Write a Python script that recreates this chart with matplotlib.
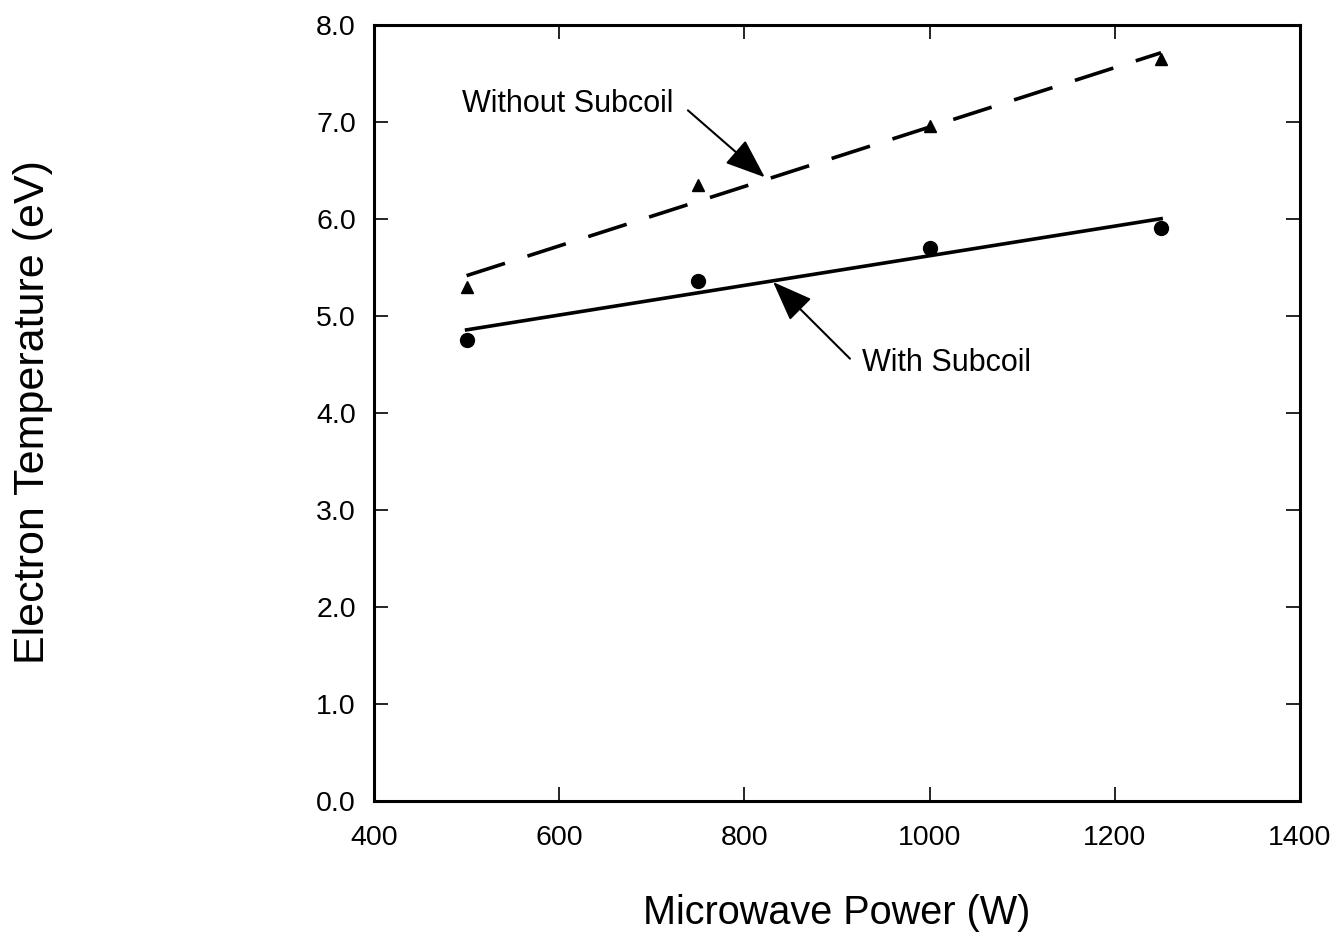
import numpy as np
import matplotlib
matplotlib.use("Agg")
import matplotlib.pyplot as plt

plt.rcParams['font.family'] = ['Liberation Sans', 'DejaVu Sans']
plt.rcParams['lines.scale_dashes'] = False

power = [500, 750, 1000, 1250]
te_without = [5.30, 6.35, 6.96, 7.65]
te_with = [4.75, 5.36, 5.70, 5.91]

x_ticks = [400, 600, 800, 1000, 1200, 1400]
y_ticks = [0.0, 1.0, 2.0, 3.0, 4.0, 5.0, 6.0, 7.0, 8.0]

fig = plt.figure(figsize=(13.42, 9.43), dpi=100)
ax = fig.add_axes([0.2787, 0.1506, 0.6900, 0.8229])

x = np.array(power, dtype=float)
p1 = np.polyfit(x, te_without, 1)
p2 = np.polyfit(x, te_with, 1)
xf = np.array([power[0], power[-1]], dtype=float)

ax.plot(xf, np.polyval(p1, xf), color='black', lw=2.6, dashes=(29, 17))
ax.plot(xf, np.polyval(p2, xf), color='black', lw=2.6)
ax.plot(power, te_without, linestyle='none', marker='^', ms=9, color='black')
ax.plot(power, te_with, linestyle='none', marker='o', ms=10, color='black')

ax.set_xlim(400, 1400)
ax.set_ylim(0, 8)
ax.set_xticks(x_ticks)
ax.set_yticks(y_ticks)
ax.set_yticklabels([f"{v:.1f}" for v in y_ticks])
ax.tick_params(direction='in', length=10, width=1.2, top=True, right=True,
               labelsize=20.5)
ax.tick_params(axis='x', pad=17)
ax.tick_params(axis='y', pad=13)
for s in ax.spines.values():
    s.set_linewidth(2.2)

ax.set_xlabel('Microwave Power (W)', fontsize=28.5)
ax.xaxis.set_label_coords(0.5, -0.12)
ax.set_ylabel('Electron Temperature (eV)', fontsize=31)
ax.yaxis.set_label_coords(-0.347, 0.501)

ax.text(495, 7.10, 'Without Subcoil', fontsize=22, ha='left', va='baseline')
ax.text(927, 4.43, 'With Subcoil', fontsize=22, ha='left', va='baseline')

aprops = dict(arrowstyle='-|>,head_length=1.25,head_width=0.48', color='black',
              lw=1.5, mutation_scale=20, shrinkA=0, shrinkB=0)
ax.annotate('', xy=(822, 6.43), xytext=(739, 7.12), arrowprops=aprops)
ax.annotate('', xy=(831, 5.35), xytext=(914, 4.56), arrowprops=aprops)

fig.savefig('out.png', dpi=100)
